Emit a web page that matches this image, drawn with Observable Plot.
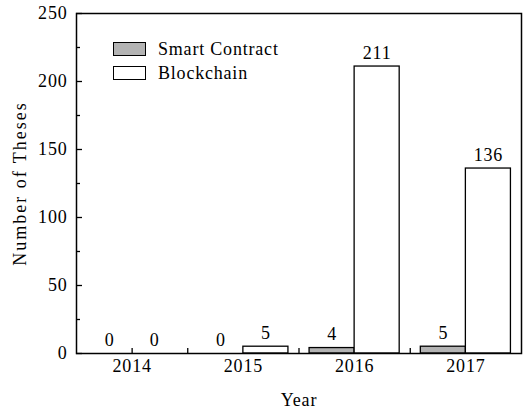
<!DOCTYPE html>
<html>
<head>
<meta charset="utf-8">
<script src="https://cdn.jsdelivr.net/npm/d3@7"></script>
<script src="https://cdn.jsdelivr.net/npm/@observablehq/plot@0.6"></script>
<style>
  html, body { margin: 0; padding: 0; background: #fff; }
  #wrap { position: relative; width: 532px; height: 410px; font-family: "Liberation Serif", "Times New Roman", Tinos, "DejaVu Serif", "Noto Serif", serif; }
  #wrap svg text { font-family: "Liberation Serif", "Times New Roman", Tinos, "DejaVu Serif", "Noto Serif", serif; letter-spacing: 0.8px; }
  .legend { position: absolute; left: 113px; top: 37px; font-size: 18px; color: #000; letter-spacing: 0.8px; }
  .legend .row { display: flex; align-items: center; height: 24px; }
  .legend .sw { width: 31px; height: 12px; border: 1.5px solid #000; margin-right: 12px; box-sizing: content-box; }
</style>
</head>
<body>
<div id="wrap"></div>
<script>
const years = [2014, 2015, 2016, 2017];
const seriesNames = ["Smart Contract", "Blockchain"];
const smartContract = [0, 0, 4, 5];
const blockchain = [0, 5, 211, 136];
const seriesColors = ["#b3b3b3", "#ffffff"];
const yMajorTicks = [0, 50, 100, 150, 200, 250];
const yMinorTicks = [25, 75, 125, 175, 225];
const xTickMarks = [2014, 2014.5, 2015.5, 2016.5];
const xTitle = "Year";
const yTitle = "Number of Theses";

const rows = [];
years.forEach((yr, i) => {
  rows.push({year: yr, series: seriesNames[0], value: smartContract[i], side: -1});
  rows.push({year: yr, series: seriesNames[1], value: blockchain[i], side: 1});
});
const halfBar = 0.405;

const chart = Plot.plot({
  width: 532,
  height: 410,
  marginLeft: 76,
  marginRight: 11,
  marginTop: 13,
  marginBottom: 57,
  style: {fontFamily: "'Liberation Serif', 'Times New Roman', serif", fontSize: "18px", color: "#000", background: "#fff"},
  x: {domain: [2013.5, 2017.5]},
  y: {domain: [0, 250]},
  color: {domain: seriesNames, range: seriesColors},
  marks: [
    Plot.rectY(rows, {
      x1: d => d.side < 0 ? d.year - halfBar : d.year,
      x2: d => d.side < 0 ? d.year : d.year + halfBar,
      y: "value",
      fill: "series",
      stroke: "#000",
      strokeWidth: 1.3
    }),
    Plot.text(rows, {
      x: d => d.year + d.side * halfBar / 2,
      y: "value",
      text: d => String(d.value),
      lineAnchor: "bottom",
      dy: -8,
      fontSize: 18,
      fill: "#000"
    }),
    Plot.frame({stroke: "#000", strokeWidth: 1.5}),
    Plot.axisY(yMajorTicks, {tickSize: -6, text: null, label: null, strokeWidth: 1.3}),
    Plot.axisY(yMinorTicks, {tickSize: -4, text: null, label: null, strokeWidth: 1.3}),
    Plot.axisY(yMajorTicks, {tickSize: 0, tickPadding: 9, label: null, fontSize: 18}),
    Plot.axisX(xTickMarks, {tickSize: -5, text: null, label: null, strokeWidth: 1.3}),
    Plot.axisX(years, {tickSize: 0, tickPadding: 6, tickFormat: d => String(d), label: null, fontSize: 18}),
    Plot.text([xTitle], {frameAnchor: "bottom", dy: 52, text: d => d, fontSize: 18, fill: "#000"}),
    Plot.text([yTitle], {frameAnchor: "left", dx: -56, rotate: -90, textAnchor: "middle", lineAnchor: "middle", text: d => d, fontSize: 18, fill: "#000"})
  ]
});

d3.select(chart).selectAll("text")
  .filter(function() { return this.textContent === yTitle; })
  .style("letter-spacing", "2px");

const wrap = document.getElementById("wrap");
wrap.appendChild(chart);

const legend = document.createElement("div");
legend.className = "legend";
seriesNames.forEach((name, i) => {
  const row = document.createElement("div");
  row.className = "row";
  const sw = document.createElement("div");
  sw.className = "sw";
  sw.style.background = seriesColors[i];
  const label = document.createElement("span");
  label.textContent = name;
  row.appendChild(sw);
  row.appendChild(label);
  legend.appendChild(row);
});
wrap.appendChild(legend);
</script>
</body>
</html>
